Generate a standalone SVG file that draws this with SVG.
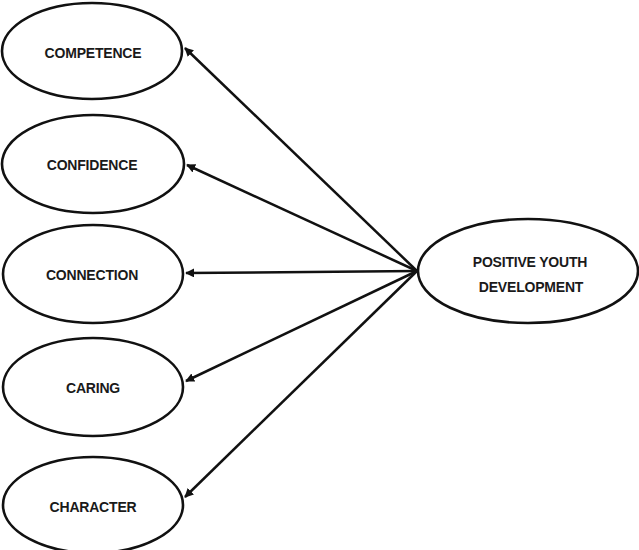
<svg xmlns="http://www.w3.org/2000/svg" width="639" height="550" viewBox="0 0 639 550">
<style>
.node ellipse{fill:#fff;stroke:#111;stroke-width:2.6}
.node text{font-family:"Liberation Sans",Arial,sans-serif;font-weight:bold;font-size:14px;fill:#1a1a1a;text-anchor:middle;letter-spacing:-0.2px}
.edges line{stroke:#111;stroke-width:2.5;marker-end:url(#ah)}
</style>
<defs>
<marker id="ah" viewBox="0 0 10 10" refX="9" refY="5" markerWidth="3.6" markerHeight="3.6" orient="auto" markerUnits="strokeWidth">
<path d="M0,0 L10,5 L0,10 z" fill="#111"/>
</marker>
</defs>
<g class="edges">
<line x1="417" y1="271" x2="185" y2="48"/>
<line x1="417" y1="271" x2="187" y2="165"/>
<line x1="417" y1="271" x2="186" y2="273"/>
<line x1="417" y1="271" x2="186" y2="381"/>
<line x1="417" y1="271" x2="185" y2="497"/>
</g>
<g id="competence" class="node"><ellipse cx="92" cy="51" rx="90" ry="48"/><text x="93" y="58">COMPETENCE</text></g>
<g id="confidence" class="node"><ellipse cx="93" cy="164" rx="91" ry="49"/><text x="92" y="170">CONFIDENCE</text></g>
<g id="connection" class="node"><ellipse cx="93" cy="274" rx="90" ry="49"/><text x="92" y="280">CONNECTION</text></g>
<g id="caring" class="node"><ellipse cx="93" cy="387" rx="90" ry="49"/><text x="93" y="393">CARING</text></g>
<g id="character" class="node"><ellipse cx="93" cy="505" rx="90" ry="48"/><text x="93" y="512">CHARACTER</text></g>
<g id="pyd" class="node"><ellipse cx="528" cy="271" rx="110" ry="52"/><text x="530" y="267">POSITIVE YOUTH</text><text x="531" y="292">DEVELOPMENT</text></g>
</svg>
